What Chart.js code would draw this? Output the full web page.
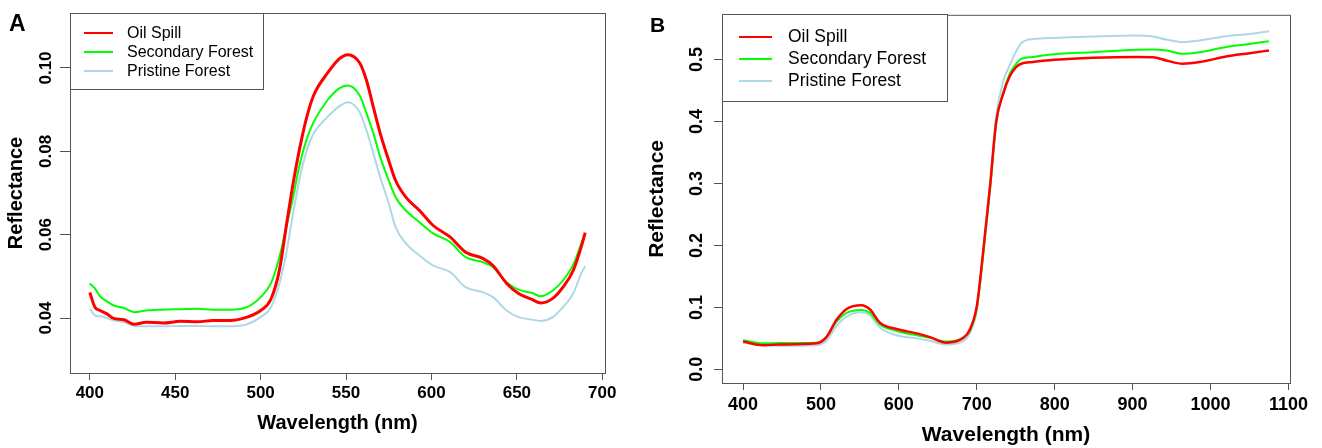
<!DOCTYPE html>
<html>
<head>
<meta charset="utf-8">
<script src="https://cdn.jsdelivr.net/npm/chart.js@4.4.1/dist/chart.umd.min.js"></script>
<style>
  body { margin: 0; background: #fff; width: 1322px; height: 448px; overflow: hidden; position: relative; font-family: Arial, "Liberation Sans", sans-serif; }
  .panel { position: absolute; top: 0; height: 448px; }
  #wrapA { left: 0; width: 640px; }
  #wrapB { left: 640px; width: 682px; }
  .letter { position: absolute; font-weight: bold; color: #000; line-height: 1; }
  .legend { position: absolute; border: 1px solid #555; background: #fff; box-sizing: border-box; }
  .legend .txt { position: absolute; white-space: nowrap; line-height: 1; color: #000; transform: translateY(-50%); }
  .legend .sw { position: absolute; height: 2px; transform: translateY(-50%); }
</style>
</head>
<body>
<div class="panel" id="wrapA"><canvas id="chartA" width="640" height="448"></canvas></div>
<div class="panel" id="wrapB"><canvas id="chartB" width="682" height="448"></canvas></div>
<div class="letter" style="left:9px;top:12px;font-size:23px;">A</div>
<div class="letter" style="left:650px;top:14px;font-size:21px;">B</div>
<div class="legend" id="legA" style="left:70px;top:13px;width:194px;height:77px;"></div>
<div class="legend" id="legB" style="left:722px;top:14px;width:226px;height:88px;"></div>

<script>
const seriesNames = ['Oil Spill', 'Secondary Forest', 'Pristine Forest'];
const seriesColors = ['#ff0000', '#00ff00', '#add8e6'];

// panel A: visible range
const wavelengthsA = [400, 403, 406, 410, 414, 420, 426, 433, 443, 453,
  463, 472, 482, 492, 500, 506, 511, 515, 519, 523,
  527, 531, 539, 546, 551, 558, 562, 566, 570, 575,
  579, 585, 593, 601, 611, 620, 630, 636, 644, 651,
  659, 664, 671, 677, 683, 688, 690];
const oilA = [.0461, .0426, .0418, .0410, .0399, .0396, .0385, .0390, .0388, .0392,
  .0391, .0394, .0394, .0402, .0418, .0445, .0515, .0620, .0723, .0810,
  .0882, .0934, .0987, .1022, .1032, .1012, .0970, .0906, .0843, .0778,
  .0730, .0690, .0658, .0622, .0594, .0558, .0543, .0526, .0483, .0459,
  .0444, .0436, .0447, .0474, .0514, .0575, .0605];
const secondaryA = [.0483, .0471, .0452, .0440, .0430, .0424, .0414, .0418, .0420, .0421,
  .0422, .0420, .0420, .0426, .0450, .0483, .0546, .0618, .0690, .0771,
  .0830, .0870, .0922, .0951, .0958, .0934, .0891, .0843, .0786, .0730,
  .0690, .0658, .0630, .0603, .0582, .0546, .0534, .0522, .0486, .0468,
  .0460, .0452, .0466, .0490, .0528, .0582, .0603];
const pristineA = [.0422, .0406, .0404, .0400, .0394, .0390, .0381, .0380, .0380, .0381,
  .0381, .0380, .0380, .0385, .0402, .0426, .0483, .0555, .0651, .0738,
  .0802, .0843, .0882, .0908, .0918, .0894, .0850, .0795, .0738, .0675,
  .0618, .0579, .0550, .0526, .0510, .0474, .0462, .0450, .0418, .0402,
  .0396, .0393, .0402, .0426, .0459, .0510, .0524];
const xTicksA = [400, 450, 500, 550, 600, 650, 700];
const yTicksA = [0.04, 0.06, 0.08, 0.10];
const yTickLabelsA = ['0.04', '0.06', '0.08', '0.10'];

// panel B: full range
const wavelengthsB = [400, 425, 447, 494, 507, 520, 533, 552, 563, 576,
  597, 623, 640, 661, 682, 691, 700, 708, 717, 725,
  734, 742, 750, 757, 772, 785, 806, 849, 905, 926,
  943, 964, 986, 1020, 1050, 1075];
const oilB = [.045, .039, .040, .042, .052, .080, .0975, .1034, .0965, .075,
  .065, .058, .052, .043, .050, .064, .102, .188, .295, .400,
  .445, .472, .487, .493, .496, .498, .500, .5027, .504, .5037,
  .4984, .4931, .4957, .5048, .510, .5145];
const secondaryB = [.047, .042, .0425, .043, .052, .077, .091, .0958, .091, .072,
  .062, .055, .051, .045, .051, .062, .098, .182, .290, .398,
  .447, .476, .492, .501, .504, .5064, .509, .5117, .5155, .516,
  .5145, .509, .5117, .520, .525, .5294];
const pristineB = [.043, .039, .038, .039, .046, .070, .085, .092, .087, .067,
  .055, .050, .046, .040, .045, .058, .095, .185, .300, .410,
  .465, .490, .512, .526, .533, .534, .535, .537, .5386, .537,
  .532, .528, .5305, .5375, .541, .5455];
const xTicksB = [400, 500, 600, 700, 800, 900, 1000, 1100];
const yTicksB = [0, 0.1, 0.2, 0.3, 0.4, 0.5];
const yTickLabelsB = ['0.0', '0.1', '0.2', '0.3', '0.4', '0.5'];

Chart.defaults.font.family = 'Arial, "Liberation Sans", sans-serif';
Chart.defaults.color = '#000';

const framePlugin = {
  id: 'frame',
  afterDatasetsDraw(chart) {
    const a = chart.chartArea;
    const ctx = chart.ctx;
    ctx.save();
    ctx.strokeStyle = '#555';
    ctx.lineWidth = 1;
    ctx.strokeRect(a.left + 0.5, a.top + 0.5, a.right - a.left, a.bottom - a.top);
    ctx.restore();
  }
};

function makeSeries(xs, ys) {
  return xs.map((x, i) => ({x: x, y: ys[i]}));
}

function makeChart(id, s) {
  const sets = [s.oil, s.secondary, s.pristine];
  const datasets = sets.map((ys, i) => ({
    label: seriesNames[i],
    data: makeSeries(s.wl, ys),
    borderColor: seriesColors[i],
    borderWidth: s.widths[i],
    pointRadius: 0,
    cubicInterpolationMode: 'monotone',
    fill: false
  }));
  return new Chart(document.getElementById(id), {
    type: 'line',
    data: {datasets: datasets},
    options: {
      responsive: false,
      animation: false,
      layout: {padding: s.padding},
      plugins: {legend: {display: false}, tooltip: {enabled: false}},
      scales: {
        x: {
          type: 'linear',
          min: s.xMin, max: s.xMax,
          afterBuildTicks: sc => { sc.ticks = s.xTicks.map(v => ({value: v})); },
          afterFit: sc => { sc.height = s.xHeight; },
          border: {display: false},
          grid: {drawOnChartArea: false, drawTicks: true, tickLength: 7, color: '#555'},
          ticks: {font: {size: s.tickFont, weight: 'bold'}, padding: s.xPad, maxRotation: 0, autoSkip: false,
            callback: v => String(v)},
          title: {display: true, text: 'Wavelength (nm)', font: {size: s.titleFont, weight: 'bold'},
            padding: {top: 0, bottom: s.xTitlePad}}
        },
        y: {
          min: s.yMin, max: s.yMax,
          afterBuildTicks: sc => { sc.ticks = s.yTicks.map(v => ({value: v})); },
          afterFit: sc => { sc.width = s.yWidth; },
          border: {display: false},
          grid: {drawOnChartArea: false, drawTicks: true, tickLength: s.yTickLen, color: '#555'},
          ticks: {font: {size: s.tickFont, weight: 'bold'}, padding: s.yPad, minRotation: 90, maxRotation: 90,
            crossAlign: 'center', autoSkip: false,
            callback: (v, i) => s.yLabels[i]},
          title: {display: true, text: 'Reflectance', font: {size: s.titleFont, weight: 'bold'},
            padding: {top: s.yTitlePad, bottom: 0}}
        }
      }
    },
    plugins: [framePlugin]
  });
}

makeChart('chartA', {
  wl: wavelengthsA, oil: oilA, secondary: secondaryA, pristine: pristineA,
  widths: [3, 2, 2],
  padding: {left: 0, top: 13, right: 35, bottom: 0},
  xMin: 388.4, xMax: 701.6, xTicks: xTicksA, xHeight: 75, xPad: 3, xTitlePad: 13,
  yMin: 0.0268, yMax: 0.1132, yTicks: yTicksA, yLabels: yTickLabelsA,
  yWidth: 70, yTickLen: 10, yPad: -3, yTitlePad: 4,
  tickFont: 17, titleFont: 20
});

makeChart('chartB', {
  wl: wavelengthsB, oil: oilB, secondary: secondaryB, pristine: pristineB,
  widths: [2.5, 2, 2],
  padding: {left: 0, top: 14, right: 32, bottom: 0},
  xMin: 373, xMax: 1102, xTicks: xTicksB, xHeight: 65, xPad: 4, xTitlePad: 0,
  yMin: -0.022, yMax: 0.572, yTicks: yTicksB, yLabels: yTickLabelsB,
  yWidth: 82, yTickLen: 8, yPad: 4, yTitlePad: 5,
  tickFont: 18, titleFont: 21
});

function buildLegend(id, o) {
  const box = document.getElementById(id);
  seriesNames.forEach((name, i) => {
    const y = o.rows[i];
    const sw = document.createElement('span');
    sw.className = 'sw';
    sw.style.cssText = `left:${o.swLeft}px;top:${y}px;width:${o.swWidth}px;background:${seriesColors[i]};`;
    box.appendChild(sw);
    const t = document.createElement('div');
    t.className = 'txt';
    t.style.cssText = `left:${o.textLeft}px;top:${y}px;font-size:${o.font}px;`;
    t.textContent = name;
    box.appendChild(t);
  });
}
buildLegend('legA', {rows: [19, 38, 57], swLeft: 13, swWidth: 29, textLeft: 56, font: 16});
buildLegend('legB', {rows: [22, 44, 66], swLeft: 16, swWidth: 33, textLeft: 65, font: 17.5});
</script>
</body>
</html>
